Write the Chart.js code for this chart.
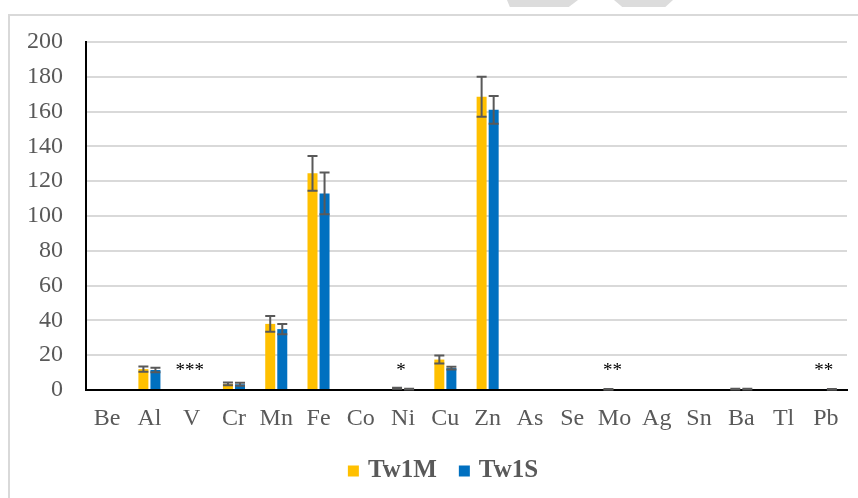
<!DOCTYPE html>
<html><head><meta charset="utf-8">
<script src="https://cdn.jsdelivr.net/npm/chart.js@4.4.0/dist/chart.umd.min.js"></script>
<style>
html,body{margin:0;padding:0;background:#fff;}
#wrap{position:relative;width:858px;height:498px;overflow:hidden;background:#fff;}
#frame{position:absolute;left:8px;top:14px;width:900px;height:600px;border-left:2px solid #d9d9d9;border-top:2px solid #d9d9d9;}
.wm{position:absolute;top:0;height:7px;background:#dcdcdc;}
canvas{position:absolute;left:0;top:0;}
</style></head><body>
<div id="wrap">
<div id="frame"></div>
<div class="wm" style="left:507px;width:71px;clip-path:polygon(0 0,100% 0,87% 100%,4% 100%)"></div>
<div class="wm" style="left:614px;width:59px;clip-path:polygon(0 0,100% 0,87% 100%,14% 100%)"></div>
<canvas id="c" width="858" height="498"></canvas>
</div>
<script>
const categories = ['Be','Al','V','Cr','Mn','Fe','Co','Ni','Cu','Zn','As','Se','Mo','Ag','Sn','Ba','Tl','Pb'];
const tw1M    = [0, 12,   0, 3.5, 38,  124.5, 0, 1.0, 17.5, 168.5, 0, 0, 0.4, 0, 0, 0.5, 0, 0];
const tw1MErr = [0, 1.5,  0, 0.8, 4.5, 10,    0, 0.3, 2.3,  11.5,  0, 0, 0.2, 0, 0, 0.2, 0, 0];
const tw1S    = [0, 11.5, 0, 3.3, 35,  113,   0, 0.5, 12.6, 161,   0, 0, 0,   0, 0, 0.5, 0, 0.4];
const tw1SErr = [0, 1.3,  0, 0.8, 3,   12,    0, 0.2, 0.8,  8,     0, 0, 0,   0, 0, 0.2, 0, 0.2];
const significance = ['','','***','','','','','*','','','','','**','','','','','**'];
const sigLevel = 13;
const yTicks = [0,20,40,60,80,100,120,140,160,180,200];

const errors = [tw1MErr, tw1SErr];

const errorBarPlugin = {
  id: 'errorBars',
  afterDatasetsDraw(chart) {
    const ctx = chart.ctx;
    const ys = chart.scales.y;
    ctx.save();
    ctx.strokeStyle = '#595959';
    ctx.lineWidth = 2;
    chart.data.datasets.forEach((ds, i) => {
      const meta = chart.getDatasetMeta(i);
      meta.data.forEach((el, j) => {
        const e = errors[i][j];
        if (!e) return;
        const v = ds.data[j];
        const yt = ys.getPixelForValue(v + e);
        const yb = ys.getPixelForValue(Math.max(0, v - e));
        const x = el.x;
        const hw = 5;
        ctx.beginPath();
        ctx.moveTo(x, yt); ctx.lineTo(x, yb);
        ctx.moveTo(x - hw, yt); ctx.lineTo(x + hw, yt);
        ctx.moveTo(x - hw, yb); ctx.lineTo(x + hw, yb);
        ctx.stroke();
      });
    });
    ctx.restore();
  }
};

const sigPlugin = {
  id: 'sig',
  afterDraw(chart) {
    const ctx = chart.ctx;
    const xs = chart.scales.x, ys = chart.scales.y;
    ctx.save();
    ctx.fillStyle = '#000';
    ctx.font = '19px "Liberation Serif"';
    ctx.textAlign = 'center';
    ctx.textBaseline = 'middle';
    significance.forEach((s, j) => {
      if (!s) return;
      ctx.fillText(s, xs.getPixelForValue(j) - 2, ys.getPixelForValue(sigLevel) + 4);
    });
    ctx.restore();
  }
};

const legendPlugin = {
  id: 'customLegend',
  afterDraw(chart) {
    const ctx = chart.ctx;
    ctx.save();
    ctx.font = 'bold 25px "Liberation Serif"';
    ctx.textBaseline = 'middle';
    const items = chart.data.datasets.map(d => ({label: d.label, color: d.backgroundColor, w: ctx.measureText(d.label).width}));
    const box = 11, gap = 9, between = 22;
    let total = 0;
    items.forEach((it, k) => { total += box + gap + it.w + (k ? between : 0); });
    let x = 443 - total / 2;
    const yc = 471;
    items.forEach((it, k) => {
      if (k) x += between;
      ctx.fillStyle = it.color;
      ctx.fillRect(x, yc - box / 2, box, box);
      x += box + gap;
      ctx.fillStyle = '#595959';
      ctx.fillText(it.label, x, yc);
      x += it.w;
    });
    ctx.restore();
  }
};

new Chart(document.getElementById('c'), {
  type: 'bar',
  data: {
    labels: categories,
    datasets: [
      {label: 'Tw1M', data: tw1M, backgroundColor: '#FFC000', categoryPercentage: 0.57, barPercentage: 0.83},
      {label: 'Tw1S', data: tw1S, backgroundColor: '#0070C0', categoryPercentage: 0.57, barPercentage: 0.83}
    ]
  },
  options: {
    responsive: false,
    animation: false,
    layout: {padding: {top: 42, right: 11, bottom: 0, left: 0}},
    plugins: {legend: {display: false}, tooltip: {enabled: false}},
    scales: {
      x: {
        grid: {display: false, drawTicks: false},
        border: {display: true, color: '#000', width: 2},
        ticks: {color: '#595959', font: {family: 'Liberation Serif', size: 24}, padding: 14, maxRotation: 0, autoSkip: false},
        afterFit(s) { s.height = 108; }
      },
      y: {
        min: 0, max: 200,
        afterBuildTicks(s) { s.ticks = yTicks.map(v => ({value: v})); },
        grid: {color: '#d9d9d9', lineWidth: 2, drawTicks: false},
        border: {display: true, color: '#000', width: 2},
        ticks: {color: '#595959', font: {family: 'Liberation Serif', size: 24}, padding: 23},
        afterFit(s) { s.width = 86; }
      }
    }
  },
  plugins: [errorBarPlugin, sigPlugin, legendPlugin]
});
</script>
</body></html>
